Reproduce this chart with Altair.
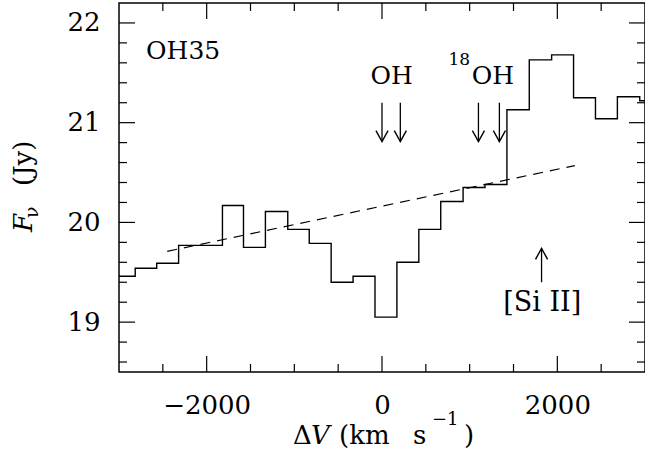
import altair as alt
import pandas as pd

# ---------------- data ----------------
bin_edges = [-3000, -2815, -2570, -2320, -2070, -1820, -1580, -1330, -1075, -830,
             -580, -330, -80, 170, 420, 670, 925, 1175, 1425, 1680,
             1935, 2185, 2435, 2685, 2940, 3000]
flux = [19.46, 19.54, 19.59, 19.77, 19.77, 20.17, 19.75, 20.11, 19.93, 19.79,
        19.40, 19.46, 19.05, 19.60, 19.93, 20.21, 20.35, 20.38, 21.13, 21.63,
        21.68, 21.25, 21.04, 21.26, 21.22]

cont_x = [-2450, 2200]
cont_y = [19.71, 20.57]

oh_arrow_x = [0, 209]
oh18_arrow_x = [1100, 1339]
down_arrow_top = 21.20
down_arrow_tip = 20.81

si_arrow_x = [1820]
si_arrow_tip = 19.74
si_arrow_bottom = 19.40

label_text = ["OH35", "OH", "OH", "[Si II]"]
label_x = [-2691, 110, 1024, 1828]
label_y = [21.64, 21.39, 21.39, 19.11]
label_align = ["left", "center", "left", "center"]
label_size = [25, 25, 25, 27]

sup_text = ["18"]
sup_x = [758]
sup_y = [21.58]

x_major = [-2000, 0, 2000]
x_minor = [-2500, -1500, -1000, -500, 500, 1000, 1500, 2500]
y_major = [19, 20, 21, 22]
y_minor = [18.6, 18.8, 19.2, 19.4, 19.6, 19.8, 20.2, 20.4, 20.6, 20.8,
           21.2, 21.4, 21.6, 21.8]

# ---------------- layout ----------------
W, H = 526, 369
FONT = "DejaVu Serif, Liberation Serif, serif"
FS = 26
MAJ, MIN = 16, 8

xs = alt.Scale(domain=[-3000, 3000], nice=False, zero=False)
ys = alt.Scale(domain=[18.5, 22.2], nice=False, zero=False)

XAX = alt.Axis(values=x_major, format="d", ticks=False, tickSize=0, domain=False,
               grid=False, labelFont=FONT, labelFontSize=FS, labelColor="black",
               labelPadding=41, labelBaseline="alphabetic", title=None)
YAX = alt.Axis(values=y_major, format="d", ticks=False, tickSize=0, domain=False,
               grid=False, labelFont=FONT, labelFontSize=FS, labelColor="black",
               labelPadding=19, title=None)

def X(field="v"):
    return alt.X(f"{field}:Q", scale=xs, axis=XAX)

def Y(field="f"):
    return alt.Y(f"{field}:Q", scale=ys, axis=YAX)

step_df = pd.DataFrame({"v": bin_edges, "f": flux + [flux[-1]]})
cont_df = pd.DataFrame({"v": cont_x, "f": cont_y})
down_df = pd.DataFrame({"v": oh_arrow_x + oh18_arrow_x,
                        "f": [down_arrow_top] * 4, "f2": [down_arrow_tip] * 4})
si_df = pd.DataFrame({"v": si_arrow_x, "f": [si_arrow_bottom], "f2": [si_arrow_tip]})
lab_df = pd.DataFrame({"v": label_x, "f": label_y, "t": label_text,
                       "a": label_align, "s": label_size})
sup_df = pd.DataFrame({"v": sup_x, "f": sup_y, "t": sup_text})

step = alt.Chart(step_df).mark_line(
    interpolate="step-after", color="black", strokeWidth=1.4
).encode(x=X(), y=Y())

cont = alt.Chart(cont_df).mark_line(
    color="black", strokeWidth=1.2, strokeDash=[10, 7]
).encode(x=X(), y=Y())

down_shaft = alt.Chart(down_df).mark_rule(color="black", strokeWidth=1.3).encode(
    x=X(), y=Y(), y2="f2:Q")
down_head = alt.Chart(down_df).mark_point(
    shape="M -0.55 -1 L 0 0 L 0.55 -1", filled=False, size=484,
    color="black", strokeWidth=1.4, opacity=1
).encode(x=X(), y=Y("f2"))

si_shaft = alt.Chart(si_df).mark_rule(color="black", strokeWidth=1.3).encode(
    x=X(), y=Y(), y2="f2:Q")
si_head = alt.Chart(si_df).mark_point(
    shape="M -0.55 1 L 0 0 L 0.55 1", filled=False, size=484,
    color="black", strokeWidth=1.4, opacity=1
).encode(x=X(), y=Y("f2"))

def labels(align):
    return alt.Chart(lab_df[lab_df.a == align]).mark_text(
        font=FONT, align=align, baseline="alphabetic", color="black"
    ).encode(x=X(), y=Y(), text="t:N",
             size=alt.Size("s:Q", scale=None, legend=None))

sup = alt.Chart(sup_df).mark_text(
    font=FONT, fontSize=17, align="left", baseline="alphabetic", color="black"
).encode(x=X(), y=Y(), text="t:N")

# inward tick marks on all four sides
def xticks(vals, top, length):
    y0 = 0 if top else H
    y1 = length if top else H - length
    return alt.Chart(pd.DataFrame({"v": vals})).mark_rule(color="black", strokeWidth=1.2).encode(
        x=X(), y=alt.value(y0), y2=alt.value(y1))

def yticks(vals, right, length):
    x0 = W if right else 0
    x1 = W - length if right else length
    return alt.Chart(pd.DataFrame({"f": vals})).mark_rule(color="black", strokeWidth=1.2).encode(
        y=Y(), x=alt.value(x0), x2=alt.value(x1))

ticks = [xticks(x_major, False, MAJ), xticks(x_minor, False, MIN),
         xticks(x_major, True, MAJ), xticks(x_minor, True, MIN),
         yticks(y_major, False, MAJ), yticks(y_minor, False, MIN),
         yticks(y_major, True, MAJ), yticks(y_minor, True, MIN)]

# axis titles composed of pieces (italic symbols, subscript, superscript)
one = pd.DataFrame({"k": [0]})

def piece(text, px, py, size=FS, italic=False, angle=0):
    kw = dict(text=text, font=FONT, fontSize=size, align="left",
              baseline="alphabetic", color="black")
    if italic:
        kw["fontStyle"] = "italic"
    if angle:
        kw["angle"] = angle
    return alt.Chart(one).mark_text(**kw).encode(x=alt.value(px), y=alt.value(py))

x_title = [
    piece("Δ", 174, 441),
    piece("V", 192, 441, italic=True),
    piece("(km", 220, 441),
    piece("s", 294, 441),
    piece("−1", 313, 422, size=18),
    piece(")", 345, 441),
]
y_title = [
    piece("F", -87, 229, italic=True, angle=270),
    piece("ν", -81, 215, size=19, angle=270),
    piece("(Jy)", -87, 183, angle=270),
]

chart = alt.layer(
    step, cont, down_shaft, down_head, si_shaft, si_head,
    labels("left"), labels("center"), sup, *ticks, *x_title, *y_title
).properties(
    width=W, height=H,
    autosize=alt.AutoSizeParams(type="none"),
    padding={"left": 119, "top": 3, "right": 0, "bottom": 83},
    background="white",
).configure_view(stroke="black", strokeWidth=1.5)

chart.save("out.html", embed_options={"renderer": "svg", "actions": False})
